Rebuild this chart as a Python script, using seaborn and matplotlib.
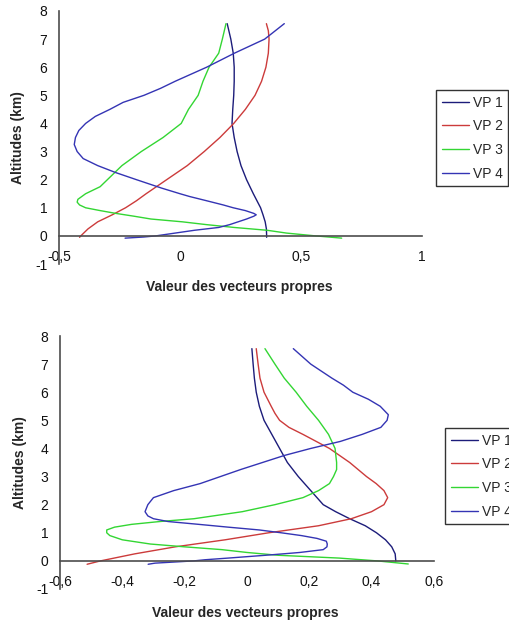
import matplotlib
matplotlib.use("Agg")
import matplotlib.pyplot as plt
import pandas as pd
import seaborn as sns
from matplotlib.lines import Line2D

# ---------------- data ----------------
series_names = ["VP 1", "VP 2", "VP 3", "VP 4"]
colors = ["#1c1c7a", "#cc3b3b", "#33d633", "#3434b4"]

# top chart
top_alt_vp1 = [-0.05, 0.0, 0.25, 0.5, 0.75, 1.0, 1.25, 1.5, 1.75, 2.0, 2.5, 3.0, 3.5, 4.0, 4.5, 5.0, 5.5, 6.0, 6.5, 7.0, 7.55]
top_vp1 = [0.358, 0.358, 0.357, 0.352, 0.343, 0.333, 0.318, 0.303, 0.289, 0.275, 0.252, 0.236, 0.224, 0.215, 0.218, 0.222, 0.224, 0.224, 0.22, 0.21, 0.195]

top_alt_vp2 = [-0.05, 0.0, 0.25, 0.5, 0.75, 1.0, 1.25, 1.5, 2.0, 2.5, 3.0, 3.5, 4.0, 4.5, 5.0, 5.5, 6.0, 6.5, 7.0, 7.3, 7.55]
top_vp2 = [-0.415, -0.41, -0.38, -0.34, -0.28, -0.225, -0.18, -0.14, -0.055, 0.03, 0.10, 0.165, 0.222, 0.27, 0.31, 0.337, 0.355, 0.365, 0.368, 0.365, 0.357]

top_alt_vp3 = [-0.08, 0.0, 0.1, 0.2, 0.3, 0.4, 0.5, 0.6, 0.7, 0.8, 0.9, 1.0, 1.1, 1.2, 1.3, 1.5, 1.75, 2.0, 2.5, 3.0, 3.5, 4.0, 4.5, 5.0, 5.5, 6.0, 6.5, 7.0, 7.55]
top_vp3 = [0.668, 0.56, 0.44, 0.36, 0.224, 0.11, 0.01, -0.12, -0.19, -0.265, -0.33, -0.39, -0.415, -0.425, -0.422, -0.39, -0.33, -0.30, -0.24, -0.16, -0.07, 0.005, 0.035, 0.075, 0.095, 0.12, 0.16, 0.175, 0.19]

top_alt_vp4 = [-0.08, -0.04, 0.0, 0.1, 0.2, 0.3, 0.4, 0.5, 0.6, 0.7, 0.75, 0.8, 0.9, 1.0, 1.1, 1.25, 1.4, 1.5, 1.7, 2.0, 2.25, 2.5, 2.75, 3.0, 3.25, 3.5, 3.75, 4.0, 4.25, 4.5, 4.75, 5.0, 5.25, 5.5, 5.75, 6.0, 6.5, 7.0, 7.55]
top_vp4 = [-0.227, -0.15, -0.10, -0.02, 0.06, 0.16, 0.205, 0.24, 0.275, 0.305, 0.315, 0.305, 0.27, 0.22, 0.179, 0.11, 0.04, 0.0, -0.076, -0.18, -0.265, -0.34, -0.40, -0.425, -0.437, -0.432, -0.418, -0.39, -0.35, -0.29, -0.235, -0.149, -0.08, -0.02, 0.045, 0.11, 0.225, 0.35, 0.431]

# bottom chart
bot_alt_vp1 = [0.0, 0.25, 0.5, 0.75, 1.0, 1.25, 1.5, 1.75, 2.0, 2.5, 3.0, 3.5, 4.0, 4.5, 5.0, 5.5, 6.0, 6.5, 7.0, 7.55]
bot_vp1 = [0.478, 0.476, 0.465, 0.445, 0.416, 0.38, 0.33, 0.285, 0.245, 0.205, 0.165, 0.13, 0.105, 0.08, 0.055, 0.04, 0.03, 0.024, 0.02, 0.016]

bot_alt_vp2 = [-0.12, 0.0, 0.25, 0.5, 0.75, 1.0, 1.25, 1.5, 1.75, 2.0, 2.25, 2.5, 2.75, 3.0, 3.5, 4.0, 4.5, 4.75, 5.0, 5.25, 5.5, 6.0, 6.5, 7.0, 7.55]
bot_vp2 = [-0.513, -0.47, -0.36, -0.23, -0.07, 0.07, 0.23, 0.335, 0.40, 0.44, 0.452, 0.44, 0.415, 0.384, 0.33, 0.265, 0.18, 0.135, 0.105, 0.09, 0.078, 0.055, 0.042, 0.036, 0.03]

bot_alt_vp3 = [-0.11, 0.0, 0.1, 0.2, 0.3, 0.4, 0.5, 0.6, 0.75, 0.9, 1.0, 1.1, 1.2, 1.3, 1.4, 1.5, 1.75, 2.0, 2.25, 2.5, 2.75, 3.0, 3.25, 3.5, 4.0, 4.5, 5.0, 5.5, 6.0, 6.5, 7.0, 7.55]
bot_vp3 = [0.518, 0.418, 0.296, 0.10, 0.0, -0.08, -0.2, -0.31, -0.40, -0.44, -0.45, -0.45, -0.425, -0.37, -0.28, -0.17, -0.015, 0.09, 0.18, 0.23, 0.265, 0.278, 0.288, 0.288, 0.283, 0.262, 0.23, 0.192, 0.158, 0.12, 0.09, 0.058]

bot_alt_vp4 = [-0.12, -0.08, 0.0, 0.04, 0.1, 0.15, 0.2, 0.27, 0.3, 0.4, 0.5, 0.6, 0.7, 0.8, 0.9, 1.0, 1.1, 1.2, 1.3, 1.4, 1.5, 1.6, 1.75, 2.0, 2.25, 2.5, 2.75, 3.0, 3.25, 3.5, 3.75, 4.0, 4.25, 4.5, 4.75, 5.0, 5.2, 5.5, 5.75, 6.0, 6.25, 6.5, 7.0, 7.55]
bot_vp4 = [-0.317, -0.295, -0.17, -0.135, -0.06, 0.0, 0.06, 0.138, 0.17, 0.245, 0.257, 0.258, 0.255, 0.225, 0.175, 0.11, 0.04, -0.06, -0.155, -0.253, -0.30, -0.318, -0.327, -0.318, -0.30, -0.235, -0.15, -0.085, -0.02, 0.05, 0.12, 0.205, 0.30, 0.37, 0.43, 0.45, 0.454, 0.428, 0.39, 0.34, 0.31, 0.273, 0.205, 0.149]

y_ticks = [-1, 0, 1, 2, 3, 4, 5, 6, 7, 8]
top_xticks = [-0.5, 0, 0.5, 1]
top_xticklabels = ["-0,5", "0", "0,5", "1"]
bot_xticks = [-0.6, -0.4, -0.2, 0, 0.2, 0.4, 0.6]
bot_xticklabels = ["-0,6", "-0,4", "-0,2", "0", "0,2", "0,4", "0,6"]

y_label = "Altitudes (km)"
x_label = "Valeur des vecteurs propres"

# ---------------- style ----------------
sns.set_style("white")
plt.rcParams["font.family"] = ["Liberation Sans", "DejaVu Sans"]

AX_COL = "#4d4d4d"


def build_df(alts, vals):
    frames = []
    for name, a, v in zip(series_names, alts, vals):
        frames.append(pd.DataFrame({"alt": a, "val": v, "VP": name}))
    return pd.concat(frames, ignore_index=True)


def draw(ax, df, xlim, xticks, xticklabels, ylab_x, xlab_y, legend_anchor, fig):
    sns.lineplot(data=df, x="val", y="alt", hue="VP", hue_order=series_names,
                 palette=dict(zip(series_names, colors)), sort=False,
                 estimator=None, lw=1.0, ax=ax, legend=False)
    ax.set_xlim(*xlim)
    ax.set_ylim(-1, 8)
    ax.set_xticks(xticks)
    ax.set_xticklabels(xticklabels)
    ax.set_yticks(y_ticks)
    ax.set_yticklabels([str(t) for t in y_ticks])
    ax.set_xlabel("")
    ax.set_ylabel("")
    for s in ("top", "right"):
        ax.spines[s].set_visible(False)
    ax.spines["bottom"].set_position(("data", 0))
    for s in ("bottom", "left"):
        ax.spines[s].set_color(AX_COL)
        ax.spines[s].set_linewidth(1.2)
    ax.tick_params(axis="x", direction="out", length=3.5, width=1.1, color=AX_COL,
                   pad=7, labelsize=10, labelcolor="#111111")
    ax.tick_params(axis="y", direction="out", length=3.5, width=1.1, color=AX_COL,
                   pad=5, labelsize=10, labelcolor="#111111")
    ax.text(ylab_x, 0.5, y_label, transform=ax.transAxes, rotation=90,
            ha="center", va="center", fontsize=10, fontweight="bold")
    ax.text(0.497, xlab_y, x_label, transform=ax.transAxes,
            ha="center", va="center", fontsize=10, fontweight="bold")
    handles = [Line2D([], [], color=c, lw=1.0) for c in colors]
    leg = fig.legend(handles, series_names, loc="upper left",
                     bbox_to_anchor=legend_anchor, bbox_transform=fig.transFigure,
                     frameon=True, fancybox=False, shadow=False, fontsize=10,
                     handlelength=2.0, handletextpad=0.25, labelspacing=0.7,
                     borderpad=0.4, borderaxespad=0)
    leg.get_frame().set_edgecolor("black")
    leg.get_frame().set_linewidth(1.0)
    leg.get_frame().set_facecolor("white")


W, H = 509, 625
fig = plt.figure(figsize=(W / 100, H / 100), dpi=100)
fig.patch.set_facecolor("white")

ax_top = fig.add_axes([59 / W, 1 - 264 / H, 363 / W, 253 / H])
ax_bot = fig.add_axes([60 / W, 1 - 589 / H, 373.8 / W, 253 / H])

df_top = build_df([top_alt_vp1, top_alt_vp2, top_alt_vp3, top_alt_vp4],
                  [top_vp1, top_vp2, top_vp3, top_vp4])
df_bot = build_df([bot_alt_vp1, bot_alt_vp2, bot_alt_vp3, bot_alt_vp4],
                  [bot_vp1, bot_vp2, bot_vp3, bot_vp4])

draw(ax_top, df_top, (-0.5, 1.0), top_xticks, top_xticklabels, -0.113, -0.091,
     (436 / W, 1 - 90 / H), fig)
draw(ax_bot, df_bot, (-0.6, 0.6), bot_xticks, bot_xticklabels, -0.107, -0.095,
     (445 / W, 1 - 428 / H), fig)

fig.savefig("out.png", dpi=100, facecolor="white")
